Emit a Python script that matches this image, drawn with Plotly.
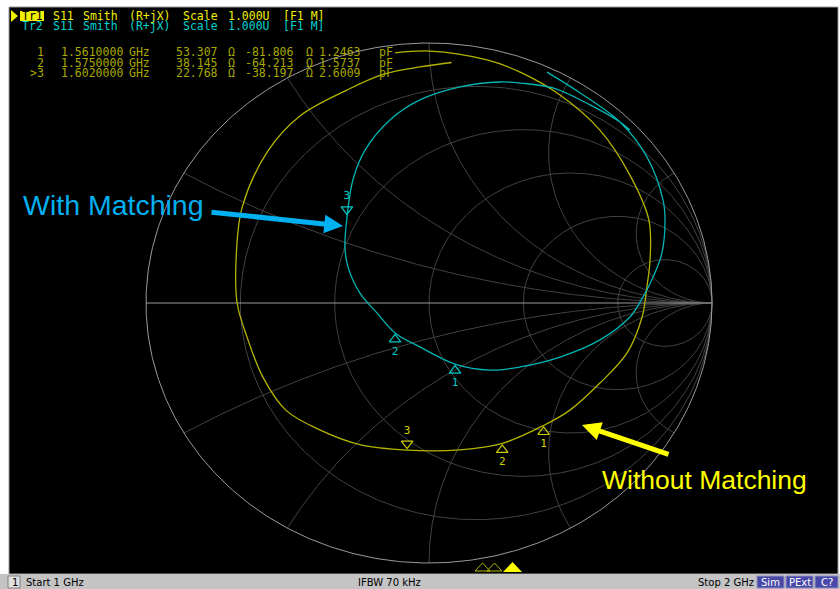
import numpy as np
import plotly.graph_objects as go

W, H = 840, 589

# ---------------- data ----------------
header_words_tr1 = ["S11", "Smith", "(R+jX)", "Scale", "1.000U", "[F1 M]"]
header_words_tr2 = ["Tr2", "S11", "Smith", "(R+jX)", "Scale", "1.000U", "[F1 M]"]

marker_ids = [" 1", " 2", ">3"]
marker_freq = ["1.5610000", "1.5750000", "1.6020000"]
marker_r_ohm = [53.307, 38.145, 22.768]
marker_x_ohm = [-81.806, -64.213, -38.197]
marker_c_pf = [1.2463, 1.5737, 2.6009]
Z0 = 50.0

# Tr1 (without matching) reflection coefficient
yellow_re = [-0.120, 0.004, 0.205, 0.322, 0.463, 0.604, 0.710, 0.777, 0.781, 0.770,
             0.753, 0.700, 0.604, 0.498, 0.405, 0.259, 0.110, -0.077, -0.244, -0.382,
             -0.505, -0.587, -0.643, -0.678, -0.680, -0.660, -0.569, -0.455, -0.290,
             -0.160, -0.032, 0.080]
yellow_im = [0.962, 0.969, 0.935, 0.888, 0.800, 0.665, 0.492, 0.319, 0.165, 0.062,
             -0.054, -0.192, -0.308, -0.412, -0.471, -0.540, -0.565, -0.566, -0.545, -0.490,
             -0.413, -0.285, -0.131, 0.0, 0.204, 0.369, 0.585, 0.720, 0.819,
             0.880, 0.908, 0.925]

# Tr2 (with matching)
cyan_re = [0.417, 0.534, 0.675, 0.770, 0.827, 0.834, 0.823, 0.792, 0.756, 0.710,
           0.604, 0.463, 0.322, 0.216, 0.092, -0.032, -0.120, -0.184, -0.244, -0.286,
           -0.297, -0.290, -0.269, -0.226, -0.138, -0.032, 0.110, 0.251, 0.322, 0.438,
           0.569, 0.675, 0.710]
cyan_im = [0.888, 0.808, 0.696, 0.562, 0.396, 0.319, 0.192, 0.100, 0.023, -0.054,
           -0.142, -0.208, -0.246, -0.258, -0.235, -0.169, -0.115, -0.038, 0.038, 0.138,
           0.215, 0.327, 0.473, 0.588, 0.704, 0.781, 0.831, 0.850, 0.846, 0.827,
           0.762, 0.696, 0.665]
cyan_marker_re = [0.092, -0.120, -0.290]
cyan_marker_im = [-0.235, -0.115, 0.335]

# graticule: resistance circles and reactance arcs (arcs meet the rim every 30 degrees)
grid_r = [0.2, 0.5, 1.0, 2.0, 5.0]
grid_x = [0.268, 0.577, 1.0, 1.732, 3.732]

# ---------------- layout geometry (pixels) ----------------
FX0, FX1, FY0, FY1 = 9, 838, 7, 574      # black plot frame
CX, CY, RX, RY = 429, 303, 283, 260      # smith chart centre and radii
x_range = [-1 - (CX - RX - FX0) / RX, 1 + (FX1 - CX - RX) / RX]
y_range = [-1 - (FY1 - CY - RY) / RY, 1 + (CY - RY - FY0) / RY]


def px(x):
    return x / W


def py(y):
    return 1 - y / H


def gamma(z):
    return (z - 1) / (z + 1)


fig = go.Figure()

# grid
grid_col = "#424242"
t = np.tan(np.linspace(-np.pi / 2 + 1e-4, np.pi / 2 - 1e-4, 600))
for r in grid_r:
    g = gamma(r + 1j * t)
    fig.add_trace(go.Scatter(x=g.real, y=g.imag, mode="lines",
                             line=dict(color=grid_col, width=1), hoverinfo="skip"))
s = np.tan(np.linspace(0, np.pi / 2 - 1e-4, 400))
for xv in grid_x:
    for sign in (1, -1):
        g = gamma(s + 1j * sign * xv)
        fig.add_trace(go.Scatter(x=g.real, y=g.imag, mode="lines",
                                 line=dict(color=grid_col, width=1), hoverinfo="skip"))
# outer circle + real axis
g = gamma(0 + 1j * t)
fig.add_trace(go.Scatter(x=np.r_[g.real, 1], y=np.r_[g.imag, 0], mode="lines",
                         line=dict(color="#9a9a9a", width=1), hoverinfo="skip"))
fig.add_trace(go.Scatter(x=[-1, 1], y=[0, 0], mode="lines",
                         line=dict(color="#9a9a9a", width=1), hoverinfo="skip"))

YEL_TR = "#b4b400"
CYA_TR = "#00b4b4"
fig.add_trace(go.Scatter(x=yellow_re, y=yellow_im, mode="lines", line_shape="spline",
                         line=dict(color=YEL_TR, width=1.3), hoverinfo="skip"))
fig.add_trace(go.Scatter(x=cyan_re, y=cyan_im, mode="lines", line_shape="spline",
                         line=dict(color=CYA_TR, width=1.3), hoverinfo="skip"))

# markers
zm = (np.array(marker_r_ohm) + 1j * np.array(marker_x_ohm)) / Z0
gm = gamma(zm)
off = 6.5 / RY


def add_markers(re, im, color):
    labels = ["1", "2", "3"]
    for i, (a, b) in enumerate(zip(re, im)):
        if i < 2:
            fig.add_trace(go.Scatter(x=[a], y=[b - off], mode="markers+text",
                                     marker=dict(symbol="triangle-up-open", size=10,
                                                 color=color, line=dict(width=1.2, color=color)),
                                     text=[labels[i]], textposition="bottom center",
                                     textfont=dict(color=color, size=11, family="DejaVu Sans Mono"),
                                     hoverinfo="skip"))
        else:
            fig.add_trace(go.Scatter(x=[a], y=[b + off], mode="markers+text",
                                     marker=dict(symbol="triangle-down-open", size=10,
                                                 color=color, line=dict(width=1.2, color=color)),
                                     text=[labels[i]], textposition="top center",
                                     textfont=dict(color=color, size=11, family="DejaVu Sans Mono"),
                                     hoverinfo="skip"))


add_markers(gm.real, gm.imag, "#d0d000")
add_markers(cyan_marker_re, cyan_marker_im, "#00c8c8")

ann = []
shapes = []
MONO = "DejaVu Sans Mono"


def text(x, y, s, color, size=12, anchor="left", family=MONO):
    ann.append(dict(x=px(x), y=py(y), xref="paper", yref="paper", text=s, showarrow=False,
                    xanchor=anchor, yanchor="middle", borderpad=0,
                    font=dict(color=color, size=size, family=family)))


# header
HY = "#f0f000"
HC = "#00d0d0"
shapes.append(dict(type="rect", xref="paper", yref="paper", x0=px(20), x1=px(44), y0=py(21), y1=py(11),
                   fillcolor=HY, line=dict(width=0)))
shapes.append(dict(type="path", xref="paper", yref="paper",
                   path=f"M{px(11)},{py(10)} L{px(18)},{py(16)} L{px(11)},{py(22)} Z",
                   fillcolor=HY, line=dict(width=0)))
text(21, 16, "Tr1", "#000000", 11.5)
xs = [52, 82, 128, 182, 227, 282]
for w, x in zip(header_words_tr1, xs):
    text(x, 16, w, HY, 11.5)
for w, x in zip(header_words_tr2, [21] + xs):
    text(x, 26, w, HC, 11.5)

# marker table
TC = "#a8a800"
rows_y = [52, 63, 73]
for i in range(3):
    y = rows_y[i]
    text(45, y, marker_ids[i], TC, 11.5, anchor="right")
    text(60, y, marker_freq[i], TC, 11.5)
    text(128, y, "GHz", TC, 11.5)
    text(175, y, f"{marker_r_ohm[i]:.3f}", TC, 11.5)
    text(227, y, "Ω", TC, 11.5)
    text(244, y, f"{marker_x_ohm[i]:.3f}", TC, 11.5)
    text(305, y, "Ω", TC, 11.5)
    text(318, y, f"{marker_c_pf[i]:.4f}", TC, 11.5)
    text(378, y, "pF", TC, 11.5)

# call-outs
SANS = "Liberation Sans, Arial"
text(22, 205, "With Matching", "#00b0f0", 28.5, family=SANS)
text(601, 480, "Without Matching", "#ffff00", 26.5, family=SANS)
ann.append(dict(x=px(343), y=py(226), xref="paper", yref="paper", ax=210 - 343, ay=212 - 226,
                axref="pixel", ayref="pixel", showarrow=True, arrowhead=2, arrowsize=0.75,
                arrowwidth=5, arrowcolor="#00b0f0", text=""))
ann.append(dict(x=px(582), y=py(425), xref="paper", yref="paper", ax=670 - 582, ay=455 - 425,
                axref="pixel", ayref="pixel", showarrow=True, arrowhead=2, arrowsize=0.75,
                arrowwidth=5, arrowcolor="#ffff00", text=""))

# bottom marker indicators
for x0 in (475, 487):
    shapes.append(dict(type="path", xref="paper", yref="paper",
                       path=f"M{px(x0)},{py(571)} L{px(x0 + 15)},{py(571)} L{px(x0 + 7.5)},{py(563)} Z",
                       line=dict(color="#b4b400", width=1)))
shapes.append(dict(type="path", xref="paper", yref="paper",
                   path=f"M{px(503)},{py(572)} L{px(522)},{py(572)} L{px(512.5)},{py(562)} Z",
                   fillcolor="#ffff00", line=dict(width=0)))

# frame
shapes.append(dict(type="rect", xref="paper", yref="paper", x0=px(FX0), x1=px(FX1), y0=py(FY1), y1=py(FY0),
                   line=dict(color="#9a9a9a", width=1)))
# status bar
shapes.append(dict(type="rect", xref="paper", yref="paper", x0=0, x1=1, y0=0, y1=py(574),
                   fillcolor="#c4c4c4", line=dict(width=0)))
shapes.append(dict(type="rect", xref="paper", yref="paper", x0=px(8), x1=px(20), y0=py(588), y1=py(576),
                   fillcolor="#e0e0e0", line=dict(color="#808080", width=1)))
SB = "DejaVu Sans"
text(11, 582, "1", "#000000", 10, family=SB)
text(25, 582, "Start 1 GHz", "#000000", 10, family=SB)
text(357, 582, "IFBW 70 kHz", "#000000", 10, family=SB)
text(697, 582, "Stop 2 GHz", "#000000", 10, family=SB)
for lab, x0, x1 in (("Sim", 757, 784), ("PExt", 786, 813), ("C?", 815, 838)):
    shapes.append(dict(type="rect", xref="paper", yref="paper", x0=px(x0), x1=px(x1), y0=py(588), y1=py(576),
                       fillcolor="#4848a8", line=dict(color="#9090c0", width=1)))
    text((x0 + x1) / 2, 582, lab, "#ffffff", 10, anchor="center", family=SB)

fig.update_layout(
    width=W, height=H, margin=dict(l=0, r=0, t=0, b=0),
    paper_bgcolor="#ffffff", plot_bgcolor="#000000", showlegend=False,
    xaxis=dict(range=x_range, domain=[px(FX0), px(FX1)], visible=False, fixedrange=True),
    yaxis=dict(range=y_range, domain=[py(FY1), py(FY0)], visible=False, fixedrange=True),
    annotations=ann, shapes=shapes,
)
fig.write_html("out.html", config={"displayModeBar": False},
               post_script="document.body.style.margin='0px';document.body.style.overflow='hidden';")
